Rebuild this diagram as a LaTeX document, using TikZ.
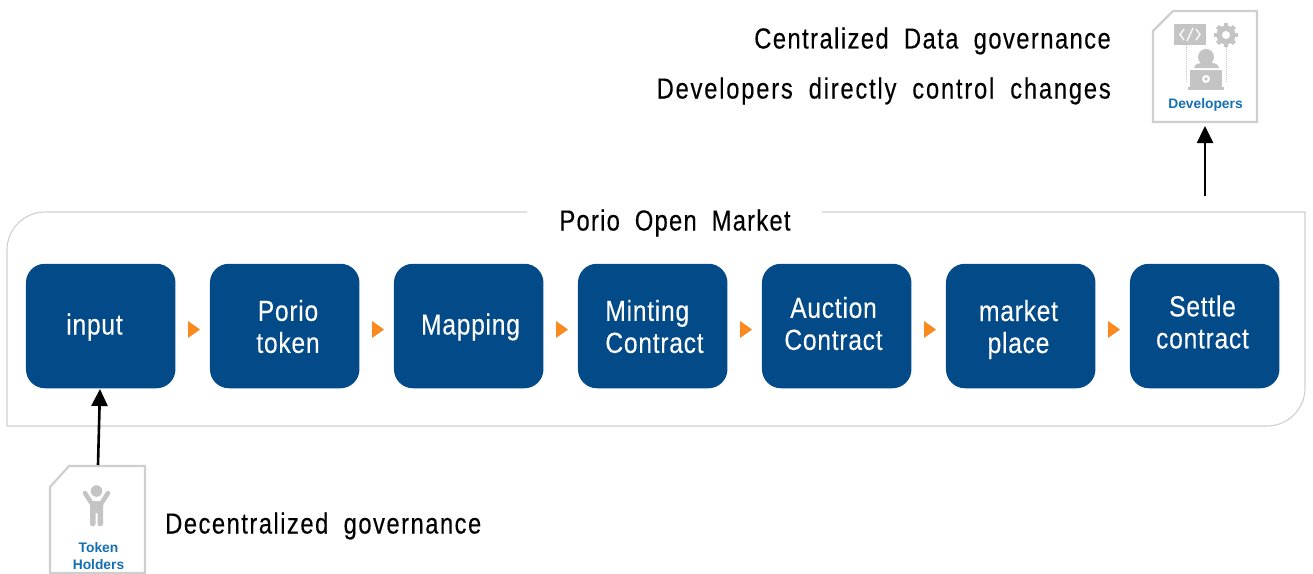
\documentclass[tikz,border=0pt]{standalone}
\usepackage{fontspec}
\setmainfont[FakeStretch=0.82,WordSpace=1.9,FakeBold=0.25]{Liberation Sans}
\newfontfamily\boxfont[FakeStretch=0.85,WordSpace=1.9,LetterSpace=2.5,FakeBold=0.2]{Liberation Sans}
\newfontfamily\iconfont{Liberation Sans}
\usetikzlibrary{arrows.meta}
\definecolor{navy}{HTML}{034A88}
\definecolor{frameg}{HTML}{CFCFCF}
\definecolor{icong}{HTML}{C4C4C4}
\definecolor{labblue}{HTML}{1470B5}
\definecolor{tri}{HTML}{FA8A1E}
\tikzset{
  x=1pt,y=-1pt,
  stagebox/.style={fill=navy,rounded corners=19pt,minimum width=149.5pt,minimum height=124.5pt,inner sep=0pt},
  stagetext/.style={inner sep=0pt,text=white,font=\boxfont\fontsize{29}{32}\selectfont,align=center},
  notetext/.style={inner sep=0pt,text=black,font=\fontsize{29}{32}\selectfont},
  cardline/.style={draw=frameg,line width=2.2pt,fill=white},
  iconlabel/.style={inner sep=0pt,text=labblue,align=center,font=\iconfont\bfseries\fontsize{13.8}{16.5}\selectfont},
  bigarrow/.style={line width=2.6pt,-{Triangle[length=17pt,width=16pt]}},
}
\begin{document}
\begin{tikzpicture}
\useasboundingbox (0,0) rectangle (1313,573);
% frame
\draw[frameg,line width=1.1pt] (527,212) -- (45,212) arc[start angle=90,end angle=180,x radius=38,y radius=-38] -- (7,426) -- (1267,426) arc[start angle=270,end angle=360,x radius=38,y radius=-38] -- (1305,212) -- (822,212);
\node[notetext] (title) at (675,223) {\addfontfeature{LetterSpace=4.3}Porio Open Market};
% stages
\node[stagebox] (s1) at (100.7,326) {};
\node[stagebox] (s2) at (284.7,326) {};
\node[stagebox] (s3) at (468.7,326) {};
\node[stagebox] (s4) at (652.7,326) {};
\node[stagebox] (s5) at (836.7,326) {};
\node[stagebox] (s6) at (1020.7,326) {};
\node[stagebox] (s7) at (1204.7,326) {};
\node[stagetext] (t1) at (94.5,327) {input};
\node[stagetext] (t2) at (288,326.5) {Porio\\token};
\node[stagetext] (t3) at (470.5,327) {Mapping};
\node[stagetext,align=left] (t4) at (654.5,326.5) {Minting\\Contract};
\node[stagetext] (t5) at (833.5,323.5) {Auction\\Contract};
\node[stagetext] (t6) at (1018.5,329.5) {market\\place};
\node[stagetext] (t7) at (1202.5,322) {Settle\\contract};
% orange triangles
\foreach \x in {188,372,556,740,924,1108}
  \fill[tri] (\x,321) -- (\x+12,329.5) -- (\x,338) -- cycle;
% developers card
\node[notetext,anchor=east] (c1) at (1111,41) {\addfontfeature{LetterSpace=4.9}Centralized Data governance};
\node[notetext,anchor=east] (c2) at (1111,91) {\addfontfeature{LetterSpace=6.1}Developers directly control changes};
\path[cardline] (1173,11) -- (1257,11) -- (1257,122) -- (1153,122) -- (1153,31) -- cycle;
\coordinate (devcard) at (1205,122);
\node[iconlabel] (devlab) at (1205.5,105) {Developers};
% code window
\fill[icong] (1174,24) rectangle (1206,45);
\draw[white,line width=1.3pt] (1184,29) -- (1180,34.5) -- (1184,40) (1196,29) -- (1200,34.5) -- (1196,40) (1193,28) -- (1187,41);
% gear
\fill[icong] (1226,35) circle (9.5);
\foreach \a in {0,45,...,315}
  \fill[icong,rotate around={\a:(1226,35)}] (1223.8,23) rectangle (1228.2,28);
\fill[white] (1226,35) circle (4);
% dotted links
\draw[icong,densely dotted,line width=1pt] (1186,45) -- (1186,82) (1226,47) -- (1226,82);
% person at laptop
\fill[icong] (1206,57) circle (8);
\fill[icong] (1194,68) .. controls (1195,63.5) and (1199,63) .. (1202,63) -- (1210,63) .. controls (1214,63) and (1218,63.5) .. (1219,68) -- cycle;
\fill[icong] (1190,69.5) rectangle (1222,87);
\fill[icong] (1188,87) rectangle (1224,90);
\fill[white] (1206,79) circle (4);
\fill[icong] (1206,79) circle (1.8);
% token holders card
\path[cardline] (69,466) -- (145,466) -- (145,573) -- (50,573) -- (50,487) -- cycle;
\coordinate (tokencard) at (98,465);
\node[iconlabel] (toklab) at (98.5,556) {Token\\Holders};
\fill[icong] (96.5,491) circle (5.8);
\fill[icong] (90,501) -- (103,501) -- (103,524) .. controls (103,527) and (97.5,527) .. (97.5,524) -- (97.5,513) -- (95.5,513) -- (95.5,524) .. controls (95.5,527) and (90,527) .. (90,524) -- cycle;
\draw[icong,line width=4.5pt,line cap=round] (92,504) -- (85,493) (101,504) -- (108,493);
\node[notetext,anchor=west] (c3) at (165,526) {\addfontfeature{LetterSpace=5.1}Decentralized governance};
% arrows
\coordinate (devstart) at (1205,196);
\draw[bigarrow] (devstart) -- (devcard |- 0,126);
\draw[bigarrow] (tokencard) -- (100,389);
\end{tikzpicture}
\end{document}
